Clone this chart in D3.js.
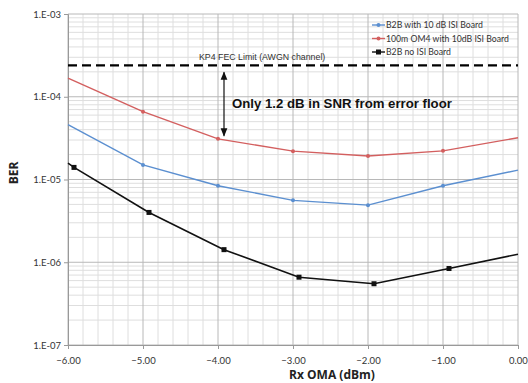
<!DOCTYPE html>
<html>
<head>
<meta charset="utf-8">
<script src="https://cdn.jsdelivr.net/npm/d3@7"></script>
<style>
  body { margin: 0; background: #fff; }
  svg { display: block; }
</style>
</head>
<body>
<div id="chart"></div>
<script>
const W = 528
const H = 383
const margin = { top: 14, right: 10, bottom: 38, left: 68 }

const rxOma = [-6, -5, -4, -3, -2, -1, 0]
const berB2bIsi = [4.6e-5, 1.5e-5, 8.4e-6, 5.6e-6, 4.9e-6, 8.4e-6, 1.3e-5]
const berOm4Isi = [1.68e-4, 6.6e-5, 3.1e-5, 2.2e-5, 1.92e-5, 2.22e-5, 3.2e-5]
const rxOmaNoIsi = [-6, -5.92, -4.92, -3.92, -2.92, -1.92, -0.92, 0]
const berB2bNoIsi = [1.58e-5, 1.4e-5, 4.0e-6, 1.42e-6, 6.6e-7, 5.5e-7, 8.4e-7, 1.25e-6]
const fecLimit = 2.4e-4
const arrowX = -3.92
const xTicks = [-6, -5, -4, -3, -2, -1, 0]
const yTicks = [1e-3, 1e-4, 1e-5, 1e-6, 1e-7]
const legendNames = ['B2B with 10 dB ISI Board', '100m OM4 with 10dB ISI Board', 'B2B no ISI Board']

const colors = { blue: '#5b8fd0', red: '#d35f5f', black: '#111' }

const svg = d3.select('#chart').append('svg').attr('width', W).attr('height', H)

const x = d3.scaleLinear().domain([-6, 0]).range([margin.left, W - margin.right])
const y = d3.scaleLog().domain([1e-7, 1e-3]).range([H - margin.bottom, margin.top])

// grid
const grid = svg.append('g')
const minorX = d3.range(-6, 0.001, 0.2).map(v => +v.toFixed(1)).filter(v => !Number.isInteger(v))
grid.selectAll('line.mx').data(minorX).join('line')
  .attr('x1', d => x(d)).attr('x2', d => x(d))
  .attr('y1', y.range()[1]).attr('y2', y.range()[0])
  .attr('stroke', '#dedede').attr('stroke-width', 1)
const minorY = []
for (let e = -7; e < -3; e++) for (let m = 2; m <= 9; m++) minorY.push(m * Math.pow(10, e))
grid.selectAll('line.my').data(minorY).join('line')
  .attr('x1', x.range()[0]).attr('x2', x.range()[1])
  .attr('y1', d => y(d)).attr('y2', d => y(d))
  .attr('stroke', '#dedede').attr('stroke-width', 1)
grid.selectAll('line.Mx').data(xTicks).join('line')
  .attr('x1', d => x(d)).attr('x2', d => x(d))
  .attr('y1', y.range()[1]).attr('y2', y.range()[0])
  .attr('stroke', '#b8b8b8').attr('stroke-width', 1)
grid.selectAll('line.My').data(yTicks).join('line')
  .attr('x1', x.range()[0]).attr('x2', x.range()[1])
  .attr('y1', d => y(d)).attr('y2', d => y(d))
  .attr('stroke', '#b8b8b8').attr('stroke-width', 1)

// axes
const xAxis = svg.append('g').attr('transform', `translate(0,${y.range()[0]})`)
  .call(d3.axisBottom(x).tickValues(xTicks).tickFormat(d3.format('.2f')).tickSize(4))
const yAxis = svg.append('g').attr('transform', `translate(${x.range()[0]},0)`)
  .call(d3.axisLeft(y).tickValues(yTicks).tickFormat(d => '1.E-' + String(-Math.round(Math.log10(d))).padStart(2, '0')).tickSize(4))
;[xAxis, yAxis].forEach(a => {
  a.selectAll('path, line').attr('stroke', '#999')
  a.selectAll('text').attr('fill', '#333').style('font-family', 'Lato, "Open Sans", sans-serif').style('font-size', '9.5px')
})
xAxis.selectAll('text').attr('dy', '1.3em')

// FEC limit
svg.append('line')
  .attr('x1', x.range()[0]).attr('x2', x.range()[1])
  .attr('y1', y(fecLimit)).attr('y2', y(fecLimit))
  .attr('stroke', '#000').attr('stroke-width', 2.2).attr('stroke-dasharray', '9,5')
svg.append('text').attr('x', 199).attr('y', y(fecLimit) - 5)
  .style('font-family', '"Liberation Sans", Arial, sans-serif').style('font-size', '8.8px').attr('fill', '#333')
  .text('KP4 FEC Limit (AWGN channel)')

// series
const line = d3.line().x(d => x(d[0])).y(d => y(d[1]))
const series = [
  { xs: rxOma, ys: berOm4Isi, color: colors.red },
  { xs: rxOma, ys: berB2bIsi, color: colors.blue },
  { xs: rxOmaNoIsi, ys: berB2bNoIsi, color: colors.black }
]
series.forEach(s => {
  const pts = s.xs.map((v, i) => [v, s.ys[i]])
  svg.append('path').datum(pts).attr('d', line)
    .attr('fill', 'none').attr('stroke', s.color).attr('stroke-width', s.color === colors.black ? 1.6 : 1.4)
})
// small point markers on blue and red
;[series[0], series[1]].forEach(s => {
  svg.selectAll(null).data(s.xs.slice(1, -1).map((v, i) => [v, s.ys[i + 1]])).join('circle')
    .attr('cx', d => x(d[0])).attr('cy', d => y(d[1])).attr('r', 2).attr('fill', s.color)
})
// square markers on black, endpoints are line only
svg.selectAll(null).data(rxOmaNoIsi.slice(1, -1).map((v, i) => [v, berB2bNoIsi[i + 1]])).join('rect')
  .attr('x', d => x(d[0]) - 2.5).attr('y', d => y(d[1]) - 2.5).attr('width', 5).attr('height', 5).attr('fill', colors.black)

// arrow annotation
const defs = svg.append('defs')
defs.append('marker').attr('id', 'ah').attr('viewBox', '0 0 10 10').attr('refX', 9).attr('refY', 5)
  .attr('markerWidth', 7).attr('markerHeight', 7).attr('orient', 'auto-start-reverse')
  .append('path').attr('d', 'M0,1 L10,5 L0,9 Z').attr('fill', '#111')
svg.append('line')
  .attr('x1', x(arrowX)).attr('x2', x(arrowX))
  .attr('y1', y(fecLimit) + 7).attr('y2', y(berOm4Isi[2]) - 3)
  .attr('stroke', '#111').attr('stroke-width', 1.2)
  .attr('marker-start', 'url(#ah)').attr('marker-end', 'url(#ah)')
svg.append('text').attr('x', 232).attr('y', 108)
  .style('font-family', '"Liberation Sans", Arial, sans-serif').style('font-size', '13.2px').style('font-weight', 'bold')
  .attr('fill', '#111').text('Only 1.2 dB in SNR from error floor')

// legend
const legend = svg.append('g').attr('transform', 'translate(372,25)')
const legendColors = [colors.blue, colors.red, colors.black]
legendNames.forEach((name, i) => {
  const g = legend.append('g').attr('transform', `translate(0,${i * 13.5})`)
  g.append('line').attr('x1', 0).attr('x2', 13).attr('y1', 0).attr('y2', 0)
    .attr('stroke', legendColors[i]).attr('stroke-width', 1.4)
  if (i === 2) g.append('rect').attr('x', 4).attr('y', -2.5).attr('width', 5).attr('height', 5).attr('fill', legendColors[i])
  else g.append('circle').attr('cx', 6.5).attr('cy', 0).attr('r', 2).attr('fill', legendColors[i])
  g.append('text').attr('x', 14).attr('y', 3)
    .style('font-family', 'Lato, "Open Sans", sans-serif').style('font-size', '8.7px').attr('fill', '#333')
    .text(name)
})

// axis titles
svg.append('text').attr('transform', 'translate(18,173) rotate(-90)').attr('text-anchor', 'middle')
  .style('font-family', '"Open Sans", sans-serif').style('font-size', '12px').style('font-weight', 'bold')
  .attr('fill', '#222').text('BER')
svg.append('text').attr('x', 332).attr('y', 379).attr('text-anchor', 'middle')
  .style('font-family', '"Open Sans", sans-serif').style('font-size', '12px').style('font-weight', 'bold')
  .attr('fill', '#222').text('Rx OMA (dBm)')
</script>
</body>
</html>
